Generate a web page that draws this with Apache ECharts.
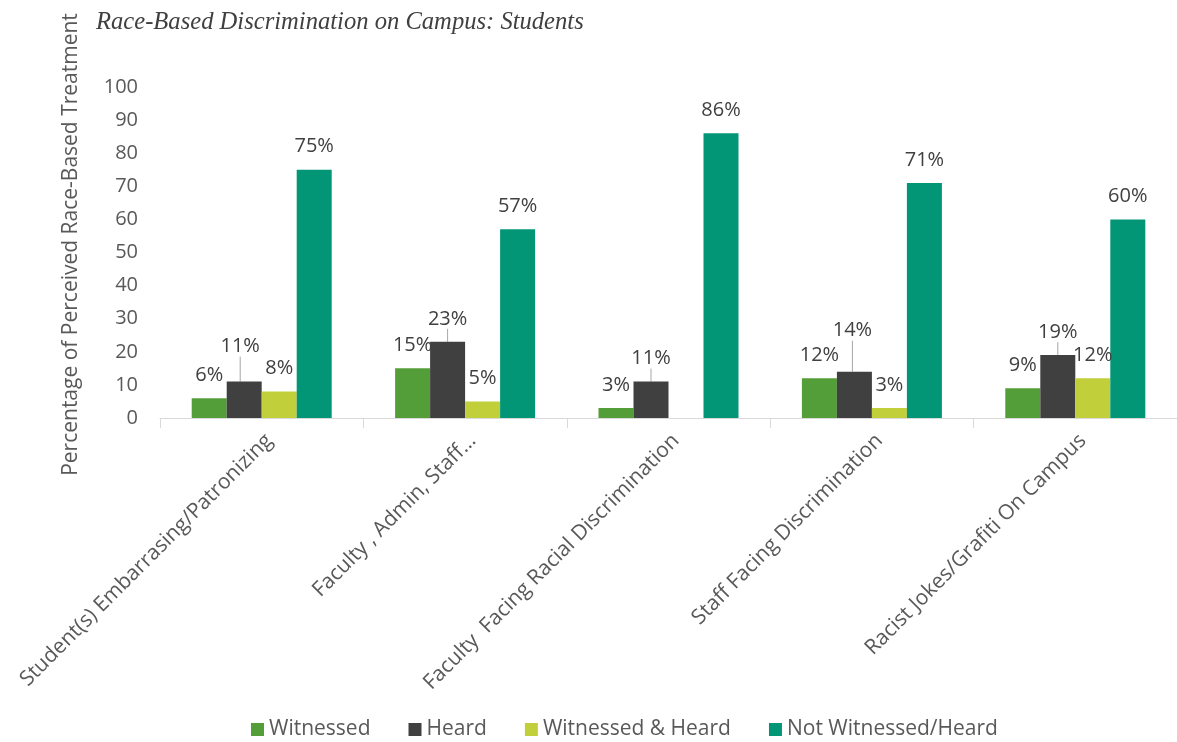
<!DOCTYPE html>
<html>
<head>
<meta charset="utf-8">
<script src="https://cdn.jsdelivr.net/npm/echarts@6/dist/echarts.min.js"></script>
<style>
  html, body { margin: 0; padding: 0; background: #fff; }
  #chart { width: 1177px; height: 742px; }
</style>
</head>
<body>
<div id="chart"></div>
<script>
// Survey categories (x axis)
const categories = [
  'Student(s) Embarrasing/Patronizing',
  'Faculty , Admin, Staff\u2026',
  'Faculty  Facing Racial Discrimination',
  'Staff Facing Discrimination',
  'Racist Jokes/Grafiti On Campus'
];

// Percentages per response type
const witnessed = [6, 15, 3, 12, 9];
const heard = [11, 23, 11, 14, 19];
const witnessedHeard = [8, 5, null, 3, 12];
const notWitnessedHeard = [75, 57, 86, 71, 60];

// Y axis ticks
const yMin = 0;
const yMax = 100;
const yStep = 10;

const seriesNames = ['Witnessed', 'Heard', 'Witnessed & Heard', 'Not Witnessed/Heard'];
const seriesColors = ['#549E39', '#404040', '#C0CF3A', '#029676'];
const seriesData = [witnessed, heard, witnessedHeard, notWitnessedHeard];

// Labels lifted clear of neighbours, with leader lines back to the bar
const liftedLabels = { 'Heard': { 0: { dx: -4, dy: -12 }, 3: { dx: -2, dy: -18 } } };

const FONT = '"Open Sans", sans-serif';
const chart = echarts.init(document.getElementById('chart'));

const series = seriesNames.map((name, si) => ({
  name: name,
  type: 'bar',
  data: seriesData[si],
  barWidth: 35,
  barGap: '0%',
  itemStyle: { color: seriesColors[si] },
  label: {
    show: true,
    position: 'top',
    distance: 13,
    fontFamily: FONT,
    fontSize: 20,
    color: '#404040',
    formatter: p => (p.value == null ? '' : p.value + '%')
  },
  labelLine: {
    show: !!liftedLabels[name],
    lineStyle: { color: '#a6a6a6', width: 1 }
  },
  labelLayout: liftedLabels[name]
    ? (p) => liftedLabels[name][p.dataIndex] || {}
    : undefined
}));

chart.setOption({
  animation: false,
  backgroundColor: '#ffffff',
  title: {
    text: 'Race-Based Discrimination on Campus: Students',
    left: 91,
    top: 5,
    textStyle: {
      fontFamily: '"Liberation Serif", "Times New Roman", serif',
      fontStyle: 'italic',
      fontWeight: 'normal',
      fontSize: 24.6,
      color: '#404040'
    }
  },
  legend: {
    top: 714,
    left: 246,
    itemWidth: 13,
    itemHeight: 13,
    itemGap: 38,
    icon: 'rect',
    textStyle: { fontFamily: FONT, fontSize: 21, color: '#595959' },
    data: seriesNames
  },
  grid: {
    left: 160,
    right: -9,
    top: 87,
    bottom: 324,
    containLabel: false
  },
  xAxis: {
    type: 'category',
    data: categories,
    axisLine: { lineStyle: { color: '#d9d9d9', width: 1 } },
    axisTick: { show: true, length: 10, lineStyle: { color: '#d9d9d9' } },
    axisLabel: {
      interval: 0,
      rotate: 45,
      margin: 12,
      verticalAlign: 'top',
      fontFamily: FONT,
      fontSize: 21,
      color: '#595959'
    }
  },
  yAxis: {
    type: 'value',
    min: yMin,
    max: yMax,
    interval: yStep,
    name: 'Percentage of Perceived Race-Based Treatment',
    nameLocation: 'middle',
    nameGap: 78,
    nameTextStyle: { fontFamily: FONT, fontSize: 21, color: '#595959', padding: [0, 0, 0, 16] },
    axisLine: { show: false },
    axisTick: { show: false },
    splitLine: { show: false },
    axisLabel: { fontFamily: FONT, fontSize: 20, color: '#595959', margin: 22 }
  },
  series: series
});
</script>
</body>
</html>
